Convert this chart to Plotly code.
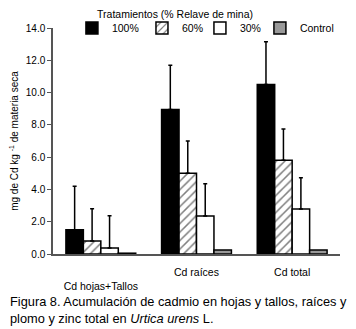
import plotly.graph_objects as go

categories = ["Cd hojas+Tallos", "Cd raíces", "Cd total"]
tick_labels = ["<br>Cd hojas+Tallos", "Cd raíces", "Cd total"]

series_names = ["100%", "60%", "30%", "Control"]
v100 = [1.5, 8.95, 10.5]
e100 = [2.7, 2.75, 2.65]
e100_minus = [2.75, 0, 0]
v60 = [0.8, 5.0, 5.8]
e60 = [2.0, 2.0, 1.95]
v30 = [0.37, 2.35, 2.78]
e30 = [2.0, 2.0, 1.95]
vctrl = [0.05, 0.25, 0.25]

FONT = "Arial, Liberation Sans, sans-serif"

fig = go.Figure()

def add(name, vals, errp, errm, color, pattern=None, legend="legend"):
    marker = dict(color=color, line=dict(color="black", width=1.5))
    if pattern:
        marker["pattern"] = pattern
    err = None
    if errp is not None:
        err = dict(type="data", array=errp, arrayminus=errm, symmetric=False,
                   color="black", thickness=1.5, width=2)
    fig.add_trace(go.Bar(name=name, x=categories, y=vals, marker=marker,
                         error_y=err, cliponaxis=False, legend=legend))

add(series_names[0], v100, e100, e100_minus, "black", legend="legend")
add(series_names[1], v60, e60, [0, 0, 0], "white",
    dict(shape="/", fgcolor="black", bgcolor="white", size=6, solidity=0.25),
    legend="legend2")
add(series_names[2], v30, e30, [0, 0, 0], "white", legend="legend3")
add(series_names[3], vctrl, None, None, "#999999", legend="legend4")

leg_common = dict(orientation="h", xanchor="left", y=1.0, yanchor="middle",
                  font=dict(size=10.5), bgcolor="rgba(0,0,0,0)",
                  itemwidth=30, tracegroupgap=0)

# the page body adds an 8px offset, so the figure is 8px smaller than the window
fig.update_layout(
    width=348, height=321,
    margin=dict(l=45, r=16, t=20, b=75, autoexpand=False),
    paper_bgcolor="white", plot_bgcolor="white",
    font=dict(family=FONT, size=10, color="black"),
    barmode="group", bargap=0.27, bargroupgap=0,
    title=dict(text="Tratamientos (% Relave de mina)", x=0.48, xanchor="center",
               xref="container", yref="container", y=1 - 6 / 321, yanchor="middle",
               font=dict(size=10.5, family=FONT, color="black")),
    showlegend=True,
    legend=dict(x=0.066, **leg_common),
    legend2=dict(x=0.310, **leg_common),
    legend3=dict(x=0.512, **leg_common),
    legend4=dict(x=0.721, **leg_common),
    xaxis=dict(tickmode="array", tickvals=categories, ticktext=tick_labels,
               showline=True, linecolor="#555555", linewidth=1.5,
               ticks="", showgrid=False, tickfont=dict(size=10.5),
               ticklabelstandoff=8, range=[-0.5, 2.5]),
    yaxis=dict(range=[0, 14], tickvals=[0, 2, 4, 6, 8, 10, 12, 14], tickformat=".1f",
               showline=True, linecolor="#555555", linewidth=1.5,
               ticks="outside", ticklen=4, tickcolor="#555555", tickwidth=1.2,
               showgrid=False, zeroline=False, tickfont=dict(size=10),
               title=dict(text="mg de Cd kg <sup>-1</sup> de materia seca",
                          font=dict(size=10), standoff=9)),
    annotations=[dict(
        text="Figura 8. Acumulación de cadmio en hojas y tallos, raíces y<br>plomo y zinc total en <i>Urtica urens</i> L.",
        xref="paper", yref="paper", x=-45 / 287, y=-0.168, xanchor="left", yanchor="top",
        align="left", showarrow=False, font=dict(size=12.8, color="black", family=FONT))],
)

fig.write_html("out.html")
